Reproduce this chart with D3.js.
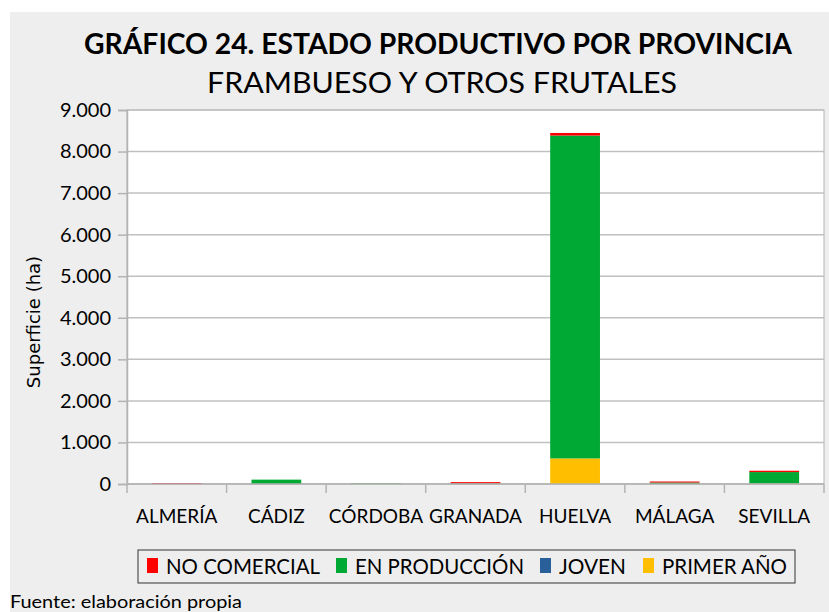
<!DOCTYPE html>
<html>
<head>
<meta charset="utf-8">
<script src="https://cdn.jsdelivr.net/npm/d3@7"></script>
<style>
  body { margin: 0; background: #fff; }
  svg { display: block; }
</style>
</head>
<body>
<svg width="829" height="612"></svg>
<script>
//Provinces on the x axis
const provincias = ["ALMERÍA", "CÁDIZ", "CÓRDOBA", "GRANADA", "HUELVA", "MÁLAGA", "SEVILLA"];

//Surface (ha) per productive state
const primerAno = [0, 0, 0, 0, 615, 0, 12];
const joven = [0, 0, 0, 0, 0, 0, 0];
const enProduccion = [3, 105, 15, 15, 7770, 35, 275];
const noComercial = [20, 0, 0, 30, 62, 25, 32];

const yTicks = [0, 1000, 2000, 3000, 4000, 5000, 6000, 7000, 8000, 9000];

// series from bottom to top
const series = [
    { key: "primer", label: "PRIMER AÑO", color: "#ffbf00", values: primerAno },
    { key: "joven", label: "JOVEN", color: "#2a6099", values: joven },
    { key: "prod", label: "EN PRODUCCIÓN", color: "#00a933", values: enProduccion },
    { key: "nocom", label: "NO COMERCIAL", color: "#ff0000", values: noComercial }
];
const legendOrder = ["nocom", "prod", "joven", "primer"];

const FONT = "Lato, 'Noto Sans', sans-serif";

const svg = d3.select("svg");
const W = +svg.attr("width"), H = +svg.attr("height");

// grey card
svg.append("rect")
    .attr("x", 10).attr("y", 12)
    .attr("width", W - 10).attr("height", H - 12)
    .attr("fill", "#eeeeee");

const margin = { top: 110, right: 5, bottom: 128, left: 127 };
const width = W - margin.left - margin.right;
const height = H - margin.top - margin.bottom;

const g = svg.append("g").attr("transform", `translate(${margin.left},${margin.top})`);

const x = d3.scaleBand().domain(provincias).range([0, width]).paddingInner(0.5).paddingOuter(0.25);
const y = d3.scaleLinear().domain([0, 9000]).range([height, 0]);

const rows = provincias.map((p, i) => {
    const r = { prov: p };
    series.forEach(s => r[s.key] = s.values[i]);
    return r;
});
const stacked = d3.stack().keys(series.map(s => s.key))(rows);

// plot area
g.append("rect")
    .attr("width", width).attr("height", height)
    .attr("fill", "#fff")
    .attr("stroke", "#b3b3b3");

// grid
g.selectAll("line.grid")
    .data(yTicks)
    .enter().append("line")
    .attr("class", "grid")
    .attr("x1", 0).attr("x2", width)
    .attr("y1", d => y(d)).attr("y2", d => y(d))
    .attr("stroke", "#c0c0c0")
    .attr("stroke-width", 1.5);

// bars
g.selectAll("g.layer")
    .data(stacked)
    .enter().append("g")
    .attr("class", "layer")
    .attr("fill", (d, i) => series[i].color)
    .selectAll("rect")
    .data(d => d)
    .enter().append("rect")
    .attr("x", d => x(d.data.prov))
    .attr("width", x.bandwidth())
    .attr("y", d => y(d[1]))
    .attr("height", d => y(d[0]) - y(d[1]));

// y axis
const fmt = d => d === 0 ? "0" : d3.format(",")(d).replace(/,/g, ".");
const yAxis = g.append("g")
    .attr("class", "axis-y")
    .call(d3.axisLeft(y).tickValues(yTicks).tickFormat(fmt).tickSize(9).tickPadding(7));
yAxis.select(".domain").attr("stroke", "#b3b3b3").attr("stroke-width", 1.5);
yAxis.selectAll(".tick line").attr("stroke", "#b3b3b3").attr("stroke-width", 1.5);
yAxis.selectAll(".tick text")
    .attr("font-family", FONT)
    .attr("font-size", "20px")
    .attr("fill", "#000");

// x axis: ticks on the band boundaries
const step = x.step();
const bounds = d3.range(provincias.length + 1).map(i => i * step);
const xg = g.append("g").attr("transform", `translate(0,${height})`);
xg.append("line")
    .attr("x1", 0).attr("x2", width)
    .attr("stroke", "#b3b3b3").attr("stroke-width", 1.5);
xg.selectAll("line.tick")
    .data(bounds)
    .enter().append("line")
    .attr("class", "tick")
    .attr("x1", d => d).attr("x2", d => d)
    .attr("y1", 0).attr("y2", 9)
    .attr("stroke", "#b3b3b3").attr("stroke-width", 1.5);
xg.selectAll("text")
    .data(provincias)
    .enter().append("text")
    .attr("x", d => x(d) + x.bandwidth() / 2)
    .attr("y", 39)
    .attr("text-anchor", "middle")
    .attr("font-family", FONT)
    .attr("font-size", "19px")
    .text(d => d);

// y axis title
svg.append("text")
    .attr("transform", "translate(40,322) rotate(-90)")
    .attr("text-anchor", "middle")
    .attr("font-family", "'DejaVu Sans', sans-serif")
    .attr("font-size", "18px")
    .text("Superficie (ha)");

// titles
svg.append("text")
    .attr("x", 438).attr("y", 54)
    .attr("text-anchor", "middle")
    .attr("font-family", FONT)
    .attr("font-weight", "bold")
    .attr("font-size", "28px")
    .attr("textLength", 708)
    .attr("lengthAdjust", "spacingAndGlyphs")
    .text("GRÁFICO 24. ESTADO PRODUCTIVO POR PROVINCIA");
svg.append("text")
    .attr("x", 442).attr("y", 93)
    .attr("text-anchor", "middle")
    .attr("font-family", FONT)
    .attr("font-size", "28px")
    .attr("textLength", 470)
    .attr("lengthAdjust", "spacingAndGlyphs")
    .text("FRAMBUESO Y OTROS FRUTALES");

// legend
const legend = svg.append("g").attr("transform", "translate(138,550)");
legend.append("rect")
    .attr("width", 657).attr("height", 33)
    .attr("fill", "#eeeeee")
    .attr("stroke", "#333").attr("stroke-width", 1);
const legItems = legendOrder.map(k => series.find(s => s.key === k));
const legX = [9, 198, 402, 505];
const legW = [154, 169, 67, 125];
legItems.forEach((s, i) => {
    legend.append("rect")
        .attr("x", legX[i]).attr("y", 8)
        .attr("width", 11).attr("height", 15)
        .attr("fill", s.color);
    legend.append("text")
        .attr("x", legX[i] + 19).attr("y", 24)
        .attr("font-family", FONT)
        .attr("font-size", "21px")
        .attr("textLength", legW[i])
        .attr("lengthAdjust", "spacingAndGlyphs")
        .text(s.label);
});

// source
svg.append("text")
    .attr("x", 10).attr("y", 608)
    .attr("font-family", FONT)
    .attr("font-size", "18px")
    .attr("textLength", 232)
    .attr("lengthAdjust", "spacingAndGlyphs")
    .text("Fuente: elaboración propia");
</script>
</body>
</html>
